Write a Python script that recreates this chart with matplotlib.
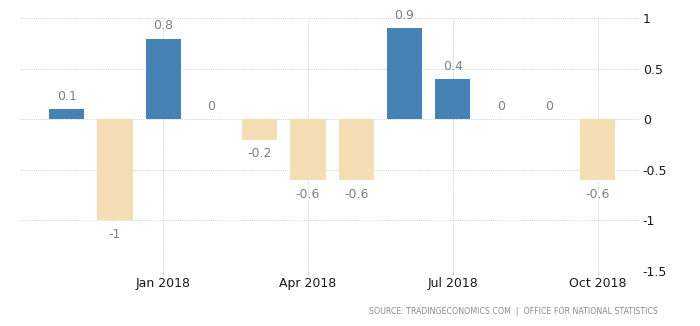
import matplotlib
matplotlib.use("Agg")
import matplotlib.pyplot as plt

months = ["Nov 2017", "Dec 2017", "Jan 2018", "Feb 2018", "Mar 2018", "Apr 2018",
          "May 2018", "Jun 2018", "Jul 2018", "Aug 2018", "Sep 2018", "Oct 2018"]
values = [0.1, -1, 0.8, 0, -0.2, -0.6, -0.6, 0.9, 0.4, 0, 0, -0.6]
tick_labels = ["Jan 2018", "Apr 2018", "Jul 2018", "Oct 2018"]
y_ticks = [1, 0.5, 0, -0.5, -1, -1.5]
y_tick_labels = ["1", "0.5", "0", "-0.5", "-1", "-1.5"]
source = "SOURCE: TRADINGECONOMICS.COM  |  OFFICE FOR NATIONAL STATISTICS"

POS = "#4682b4"
NEG = "#f5deb3"

fig = plt.figure(figsize=(7, 3.26), dpi=100)
ax = fig.add_axes([20 / 700, 1 - 271 / 326, 620 / 700, (271 - 18.3) / 326])

x = list(range(len(values)))
colors = [POS if v >= 0 else NEG for v in values]
ax.bar(x, values, width=0.73, color=colors, zorder=2)

for xi, v in zip(x, values):
    label = f"{v:g}"
    if v >= 0:
        ax.annotate(label, (xi, v), xytext=(0, 4.5), textcoords="offset points",
                    ha="center", va="bottom", fontsize=9, color="#808080")
    else:
        ax.annotate(label, (xi, v), xytext=(0, -5.5), textcoords="offset points",
                    ha="center", va="top", fontsize=9, color="#808080")

ax.set_xlim(-0.97, 11.88)
ax.set_ylim(-1.5, 1)

tick_pos = [months.index(t) for t in tick_labels]
ax.set_xticks(tick_pos)
ax.set_xticklabels(tick_labels, fontsize=9, color="#1a1a1a")
ax.set_yticks(y_ticks)
ax.set_yticklabels(y_tick_labels, fontsize=9, color="#1a1a1a")
ax.yaxis.tick_right()
ax.tick_params(axis="y", length=0, pad=2)
ax.tick_params(axis="x", length=3, color="#d0d0d0", pad=1)

ax.grid(True, axis="both", linestyle=(0, (1, 1)), color="#d4d4d4", linewidth=0.7, zorder=0)
ax.set_axisbelow(True)
for s in ax.spines.values():
    s.set_visible(False)

fig.text(658 / 700, 1 - 312 / 326, source, ha="right", va="center",
         fontsize=5.7, color="#8a8a8a")

fig.savefig("out.png", dpi=100)
